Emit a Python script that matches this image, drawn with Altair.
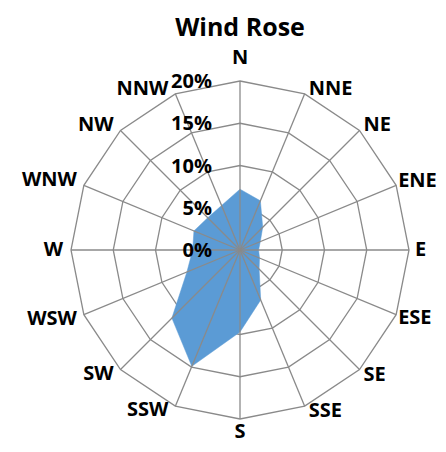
import altair as alt
import pandas as pd

# ---- data ----
directions = ["N", "NNE", "NE", "ENE", "E", "ESE", "SE", "SSE",
              "S", "SSW", "SW", "WSW", "W", "WNW", "NW", "NNW"]
frequency = [7.2, 6.3, 3.8, 2.6, 2.2, 2.5, 3.2, 6.4,
             9.7, 14.9, 11.4, 6.8, 5.6, 5.9, 5.4, 5.7]
ring_levels = [5, 10, 15, 20]
tick_values = [0, 5, 10, 15, 20]
tick_labels = ["0%", "5%", "10%", "15%", "20%"]
title_text = "Wind Rose"

RMAX = 20
n = len(directions)

poly_df = pd.DataFrame({"dir": directions, "idx": list(range(n)), "value": frequency})
grid_df = pd.DataFrame([{"ring": lv, "idx": i, "value": lv}
                        for lv in ring_levels for i in range(n)])
spoke_df = pd.DataFrame({"idx": list(range(n)), "value": [RMAX] * n})
label_df = pd.DataFrame({"dir": directions, "idx": list(range(n)), "value": [RMAX] * n})
tick_df = pd.DataFrame({"idx": [0] * len(tick_values), "value": tick_values, "label": tick_labels})

FONT = "Open Sans"
GRID = "#8a8a8a"
FILL = "#5B9BD5"

xs = alt.Scale(domain=[-RMAX, RMAX], nice=False, zero=False)
ys = alt.Scale(domain=[-RMAX, RMAX], nice=False, zero=False)


def polar(ch):
    return ch.transform_calculate(
        px=f"datum.value * sin(datum.idx * PI / {n // 2})",
        py=f"datum.value * cos(datum.idx * PI / {n // 2})",
        zero="0",
    )


X = alt.X("px:Q", scale=xs, axis=None)
Y = alt.Y("py:Q", scale=ys, axis=None)

rings = polar(alt.Chart(grid_df)).mark_line(
    interpolate="linear-closed", color=GRID, strokeWidth=1.3
).encode(x=X, y=Y, detail="ring:N", order="idx:Q")

area = polar(alt.Chart(poly_df)).mark_line(
    interpolate="linear-closed", fill=FILL, stroke=FILL, strokeWidth=0.5
).encode(x=X, y=Y, order="idx:Q")

spokes = polar(alt.Chart(spoke_df)).mark_rule(color=GRID, strokeWidth=1.3).encode(
    x=alt.X("zero:Q", scale=xs, axis=None), y=alt.Y("zero:Q", scale=ys, axis=None),
    x2="px:Q", y2="py:Q"
)

ticks = polar(alt.Chart(tick_df)).mark_text(
    align="right", baseline="middle", dx=-28, dy=1,
    font=FONT, fontWeight="bold", fontSize=20, color="#000000"
).encode(x=X, y=Y, text="label:N")


def dir_labels(idx_list, align, dx, dy):
    flt = alt.FieldOneOfPredicate(field="idx", oneOf=idx_list)
    return polar(alt.Chart(label_df)).transform_filter(flt).mark_text(
        align=align, baseline="middle", dx=dx, dy=dy,
        font=FONT, fontWeight="bold", fontSize=20, color="#000000"
    ).encode(x=X, y=Y, text="dir:N")


labels = [
    dir_labels([0], "center", 0, -23),
    dir_labels([8], "center", 0, 13),
    dir_labels([1, 2], "left", 4, -5),
    dir_labels([3], "left", 2, -4),
    dir_labels([4], "left", 6, 0),
    dir_labels([5], "left", 2, 3),
    dir_labels([6, 7], "left", 4, 5),
    dir_labels([15, 14, 13], "right", -7, -5),
    dir_labels([12], "right", -8, 0),
    dir_labels([11, 10, 9], "right", -7, 4),
]

chart = alt.layer(rings, area, spokes, ticks, *labels).properties(
    width=338, height=338,
    title=alt.TitleParams(title_text, font=FONT, fontWeight="bold", fontSize=25,
                          anchor="middle", offset=7, color="#000000"),
    autosize=alt.AutoSizeParams(type="none"),
    padding={"left": 63, "top": 73, "right": 29, "bottom": 25},
).configure_view(stroke=None)

chart.save("out.html", embed_options={"renderer": "svg", "actions": False})
